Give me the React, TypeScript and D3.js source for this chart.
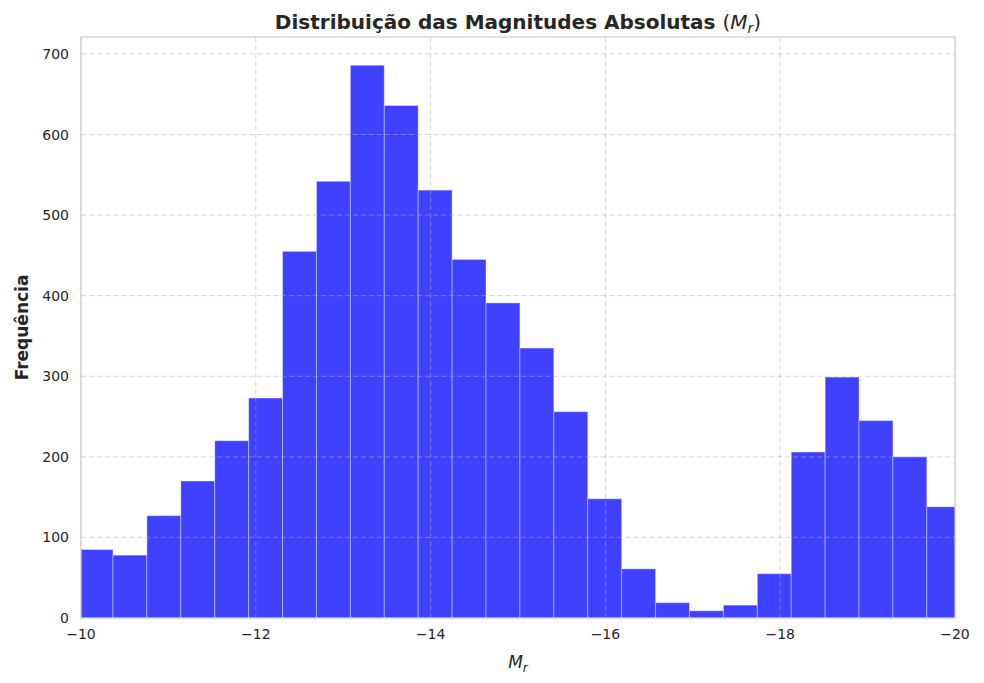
import * as d3 from 'd3'

const binStart = -9.978;
const binWidth = 0.388;
const counts = [85, 78, 127, 170, 220, 273, 455, 542, 686, 636, 531, 445, 391, 335, 256, 148, 61, 19, 9, 16, 55, 206, 299, 245, 200, 138];
const xTicks = [-10, -12, -14, -16, -18, -20];
const yTicks = [0, 100, 200, 300, 400, 500, 600, 700];

function App() {
  const width = 984;
  const height = 683;
  const left = 81, right = 955, top = 37, bottom = 618;

  const x = d3.scaleLinear().domain([-10, -20]).range([left, right]);
  const y = d3.scaleLinear().domain([0, 721]).range([bottom, top]);
  const fmt = (v: number) => (v < 0 ? '\u2212' + Math.abs(v) : String(v));
  const font = 'DejaVu Sans, sans-serif';

  return (
    <div style={{ margin: -8 }}>
      <svg width={width} height={height} style={{ display: 'block' }} fontFamily={font}>
        <defs>
          <clipPath id="plot">
            <rect x={left} y={top} width={right - left} height={bottom - top} />
          </clipPath>
        </defs>
        <rect width={width} height={height} fill="white" />
        <g clipPath="url(#plot)">
          {counts.map((c, i) => {
            const a = binStart - i * binWidth;
            const b = a - binWidth;
            return (
              <rect key={i} x={x(a)} y={y(c)} width={x(b) - x(a)} height={bottom - y(c)}
                fill="rgb(0,0,255)" fillOpacity={0.75} stroke="white" strokeOpacity={0.4} strokeWidth={1} />
            );
          })}
        </g>
        {xTicks.map(t => (
          <line key={'gx' + t} x1={x(t)} x2={x(t)} y1={top} y2={bottom} stroke="#b0b0b0" strokeOpacity={0.5} strokeDasharray="5,3" />
        ))}
        {yTicks.map(t => (
          <line key={'gy' + t} x1={left} x2={right} y1={y(t)} y2={y(t)} stroke="#b0b0b0" strokeOpacity={0.5} strokeDasharray="5,3" />
        ))}
        <rect x={left} y={top} width={right - left} height={bottom - top} fill="none" stroke="#cccccc" strokeWidth={1.2} />
        {xTicks.map(t => (
          <text key={'tx' + t} x={x(t)} y={bottom + 21} textAnchor="middle" fontSize={14} fill="#262626">{fmt(t)}</text>
        ))}
        {yTicks.map(t => (
          <text key={'ty' + t} x={left - 12} y={y(t) + 5} textAnchor="end" fontSize={14} fill="#262626">{t}</text>
        ))}
        <text x={(left + right) / 2} y={668} textAnchor="middle" fontSize={17} fill="#262626" fontStyle="italic">
          M<tspan fontSize={12} dy={4}>r</tspan>
        </text>
        <text transform={`translate(28,${(top + bottom) / 2}) rotate(-90)`} textAnchor="middle" fontSize={17} fontWeight="bold" fill="#262626">Frequência</text>
        <text x={(left + right) / 2} y={29} textAnchor="middle" fontSize={20} fill="#262626">
          <tspan fontWeight="bold">Distribuição das Magnitudes Absolutas </tspan>
          <tspan>(</tspan><tspan fontStyle="italic">M</tspan><tspan fontStyle="italic" fontSize={14} dy={4}>r</tspan><tspan dy={-4}>)</tspan>
        </text>
      </svg>
    </div>
  );
}

export default App;
